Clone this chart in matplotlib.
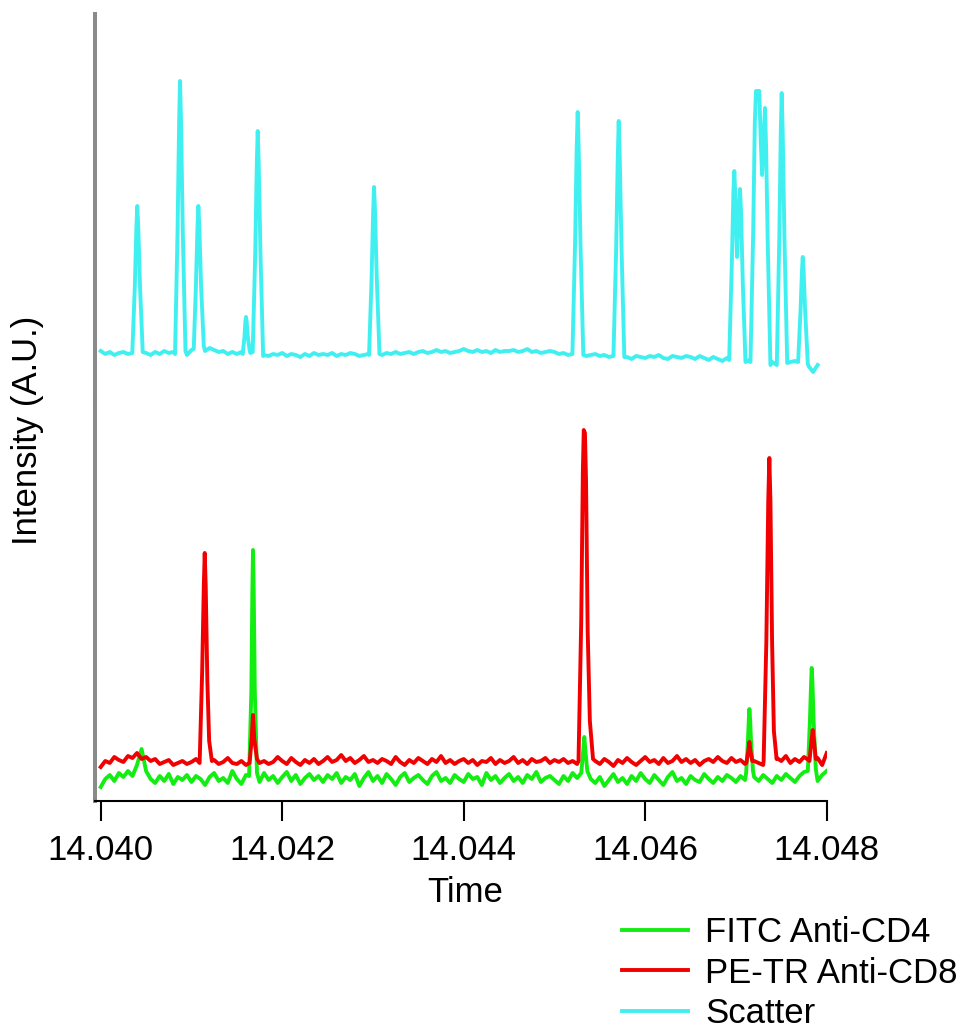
import numpy as np
import matplotlib
matplotlib.use("Agg")
import matplotlib.pyplot as plt

plt.rcParams["font.family"] = ["Liberation Sans", "DejaVu Sans"]

SERIES_LABELS = ["FITC Anti-CD4", "PE-TR Anti-CD8", "Scatter"]
X_TICKS = [14.040, 14.042, 14.044, 14.046, 14.048]
X_TICK_LABELS = ["14.040", "14.042", "14.044", "14.046", "14.048"]

# baseline samples, one every 0.00005 starting at 14.040
BASE_START = 14.040
BASE_STEP = 0.00005

SCATTER_BASE = [
    1, -2, 0, -3, -1, 0, -2, 1, -1, -2,
    -1, -3, 0, -2, 1, -1, 0, -2, -1, -3,
    2, 0, 3, 1, 4, 2, 0, 1, -2, 0,
    -2, 0, 1, -1, -2, -5, -3, -4, -2, -3,
    -1, -4, -2, -3, -5, -2, -4, -1, -3, -2,
    -3, -1, -4, -2, -3, -1, -2, -4, -3, -2,
    -5, -2, -3, -1, -2, 0, -2, -1, 0, -2,
    0, 1, -1, 0, 2, 0, 1, -1, 0, 1,
    3, 1, 0, 2, 0, 1, -1, 2, 0, 1,
    1, 2, 0, 1, 3, 0, 1, -1, 0, 1,
    0, -2, -1, -3, -4, -2, -3, -4, -3, -2,
    -4, -3, -5, -4, -6, -3, -5, -7, -4, -5,
    -6, -4, -5, -3, -6, -7, -4, -5, -6, -4,
    -5, -7, -4, -6, -8, -5, -7, -9, -6, -8,
    -9, -6, -10, -8, -12, -10, -14, -12, -10, -9,
    -11, -13, -10, -9, -12, -8, -14, -20, -13,
]

SCATTER_PEAKS = [
    [(14.040348, -1), (14.040376, 66), (14.040393, 124), (14.040403, 146),
     (14.040414, 124), (14.040433, 66), (14.040463, 0)],
    [(14.040819, -2), (14.040847, 122), (14.040864, 230), (14.040874, 271),
     (14.040885, 230), (14.040904, 122), (14.040934, 1)],
    [(14.041025, 3), (14.041049, 66), (14.041066, 124), (14.041076, 146),
     (14.041087, 124), (14.041106, 66), (14.041136, 6)],
    [(14.041565, -2), (14.041585, 16), (14.041594, 30), (14.041601, 35),
     (14.041609, 30), (14.041620, 16), (14.041642, 1)],
    [(14.041675, 0), (14.041703, 100), (14.041720, 188), (14.041730, 221),
     (14.041741, 188), (14.041760, 100), (14.041790, -4)],
    [(14.042957, -3), (14.042985, 74), (14.043002, 140), (14.043012, 165),
     (14.043023, 140), (14.043042, 74), (14.043072, -2)],
    [(14.045198, -2), (14.045227, 108), (14.045245, 204), (14.045256, 240),
     (14.045267, 204), (14.045287, 108), (14.045318, -3)],
    [(14.045650, -4), (14.045680, 104), (14.045698, 196), (14.045708, 231),
     (14.045719, 196), (14.045739, 104), (14.045770, -5)],
    [(14.046925, -8), (14.046955, 90), (14.046972, 160), (14.046982, 181),
     (14.046995, 150), (14.047012, 95), (14.047030, 140), (14.047045, 163),
     (14.047056, 140), (14.047075, 70), (14.047105, -10)],
    [(14.047160, -10), (14.047190, 120), (14.047208, 230), (14.047221, 261),
     (14.047257, 261), (14.047272, 215), (14.047288, 177), (14.047305, 215),
     (14.047320, 244), (14.047332, 205), (14.047350, 110), (14.047380, -13)],
    [(14.047450, -13), (14.047478, 115), (14.047494, 220), (14.047504, 259),
     (14.047515, 220), (14.047534, 115), (14.047565, -11)],
    [(14.047685, -10), (14.047712, 42), (14.047727, 80), (14.047736, 95),
     (14.047746, 80), (14.047762, 42), (14.047792, -12)],
]

PETR_BASE = [
    34, 40, 38, 44, 41, 39, 45, 43, 48, 42,
    44, 40, 42, 37, 39, 41, 36, 38, 40, 37,
    39, 42, 36, 40, 38, 41, 37, 39, 43, 38,
    37, 40, 36, 39, 42, 38, 40, 37, 39, 44,
    40, 37, 43, 39, 36, 41, 38, 42, 37, 40,
    44, 39, 41, 46, 40, 43, 38, 41, 45, 39,
    41, 38, 42, 40, 37, 44, 39, 36, 41, 38,
    43, 40, 37, 42, 39, 45, 38, 41, 37, 40,
    42, 38, 41, 36, 40, 39, 43, 37, 41, 38,
    40, 44, 38, 41, 37, 42, 39, 40, 43, 38,
    41, 39, 42, 38, 40, 37, 41, 36, 38, 40,
    37, 42, 39, 35, 41, 38, 43, 39, 36, 40,
    44, 39, 41, 37, 43, 38, 40, 45, 39, 42,
    38, 41, 36, 40, 42, 39, 44, 40, 38, 43,
    39, 41, 37, 42, 40, 38, 36, 41, 39, 43,
    40, 45, 38, 42, 39, 44, 41, 37, 43, 36, 48,
]

PETR_PEAKS = [
    [(14.041090, 38), (14.041118, 130), (14.041136, 215), (14.041146, 248),
     (14.041157, 215), (14.041175, 120), (14.041195, 60), (14.041225, 40)],
    [(14.041640, 38), (14.041662, 60), (14.041678, 86), (14.041692, 62), (14.041722, 42)],
    [(14.045265, 40), (14.045295, 180), (14.045313, 330), (14.045323, 371),
     (14.045336, 368), (14.045348, 320), (14.045366, 170), (14.045390, 80),
     (14.045425, 42)],
    [(14.047115, 38), (14.047136, 50), (14.047148, 59), (14.047160, 50), (14.047180, 40)],
    [(14.047305, 40), (14.047335, 160), (14.047356, 300), (14.047368, 343),
     (14.047380, 300), (14.047398, 160), (14.047418, 70), (14.047448, 42)],
    [(14.047810, 40), (14.047832, 60), (14.047846, 71), (14.047860, 60), (14.047880, 42)],
]

FITC_BASE = [
    14, 22, 26, 20, 28, 24, 30, 25, 36, 52,
    30, 22, 18, 25, 20, 27, 17, 24, 21, 26,
    19, 25, 22, 16, 24, 28, 20, 23, 18, 30,
    22, 17, 26, 20, 24, 19, 28, 21, 25, 18,
    24, 29, 20, 26, 17, 23, 27, 21, 25, 19,
    26, 22, 28, 18, 24, 21, 27, 15, 23, 29,
    20, 25, 18, 27, 22, 16, 24, 28, 19, 23,
    26, 21, 17, 25, 29, 20, 23, 18, 26, 22,
    19, 27, 22, 24, 16, 28, 21, 25, 18, 23,
    27, 20, 24, 18, 26, 22, 29, 19, 23, 25,
    21, 17, 25, 20, 28, 23, 19, 26, 22, 18,
    24, 15, 21, 27, 19, 23, 17, 25, 20, 28,
    22, 18, 26, 21, 16, 24, 29, 20, 23, 17,
    25, 21, 19, 27, 22, 18, 24, 20, 26, 23,
    19, 25, 21, 28, 24, 20, 26, 22, 18, 25,
    21, 27, 23, 19, 25, 29, 22, 24, 20, 26, 30,
]

FITC_PEAKS = [
    [(14.041635, 25), (14.041660, 110), (14.041671, 210), (14.041678, 251),
     (14.041686, 210), (14.041698, 110), (14.041722, 28)],
    [(14.045295, 28), (14.045317, 50), (14.045329, 64), (14.045341, 50), (14.045362, 30)],
    [(14.047112, 28), (14.047132, 60), (14.047142, 82), (14.047148, 92),
     (14.047156, 82), (14.047166, 60), (14.047188, 30)],
    [(14.047792, 30), (14.047815, 80), (14.047828, 118), (14.047835, 133),
     (14.047843, 118), (14.047856, 80), (14.047880, 32)],
]


def build_trace(base, peaks):
    t = BASE_START + BASE_STEP * np.arange(len(base))
    keep = np.ones(len(t), dtype=bool)
    for pk in peaks:
        keep &= ~((t >= pk[0][0]) & (t <= pk[-1][0]))
    pts = [(a, b) for a, b, k in zip(t, base, keep) if k]
    for pk in peaks:
        pts.extend(pk)
    pts.sort()
    arr = np.array(pts, dtype=float)
    return arr[:, 0], arr[:, 1]


W_PX, H_PX = 969, 1030
fig = plt.figure(figsize=(W_PX / 100, H_PX / 100), dpi=100)

left = 95 / W_PX
width = (826.7 - 95) / W_PX
y_mid = 1 - 400 / H_PX
y_bot = 1 - 801 / H_PX
y_top = 1 - 14 / H_PX

ax_top = fig.add_axes([left, y_mid, width, y_top - y_mid])
ax_bot = fig.add_axes([left, y_bot, width, y_mid - y_bot])

xlim = (14.039937, 14.048)
spine_gray = "#8a8a8a"
c_green, c_red, c_cyan = "#12ee12", "#f00000", "#40f0f0"
lw = 2.8
fs = 25

ts, ys = build_trace(SCATTER_BASE, SCATTER_PEAKS)
l_cyan, = ax_top.plot(ts, ys, color=c_cyan, lw=lw)
ax_top.set_xlim(*xlim)
ax_top.set_ylim(-48, 338)

tg, yg = build_trace(FITC_BASE, FITC_PEAKS)
tr, yr = build_trace(PETR_BASE, PETR_PEAKS)
l_green, = ax_bot.plot(tg, yg, color=c_green, lw=lw)
l_red, = ax_bot.plot(tr, yr, color=c_red, lw=lw)
ax_bot.set_xlim(*xlim)
ax_bot.set_ylim(0, 401)

for ax in (ax_top, ax_bot):
    for s in ("top", "right"):
        ax.spines[s].set_visible(False)
    ax.spines["left"].set_color(spine_gray)
    ax.spines["left"].set_linewidth(2.9)
    ax.set_yticks([])
    ax.patch.set_alpha(0)

ax_top.spines["bottom"].set_visible(False)
ax_top.set_xticks([])

ax_bot.spines["bottom"].set_color("black")
ax_bot.spines["bottom"].set_linewidth(1.5)
ax_bot.set_xticks(X_TICKS)
ax_bot.set_xticklabels(X_TICK_LABELS)
ax_bot.tick_params(axis="x", direction="out", length=14.5, width=1.5,
                   labelsize=fs, pad=9, colors="black")

fig.text(28 / W_PX, 1 - 430 / H_PX, "Intensity (A.U.)", rotation=90,
         ha="center", va="center", fontsize=fs)
fig.text(465 / W_PX, 1 - 893 / H_PX, "Time", ha="center", va="center", fontsize=fs)

fig.legend([l_green, l_red, l_cyan], SERIES_LABELS, loc="upper left",
           bbox_to_anchor=(622 / W_PX, 1 - 916 / H_PX), frameon=False,
           fontsize=fs, handlelength=1.9, handletextpad=0.5,
           labelspacing=0.22, borderpad=0, borderaxespad=0)

fig.savefig("out.png", dpi=100)
